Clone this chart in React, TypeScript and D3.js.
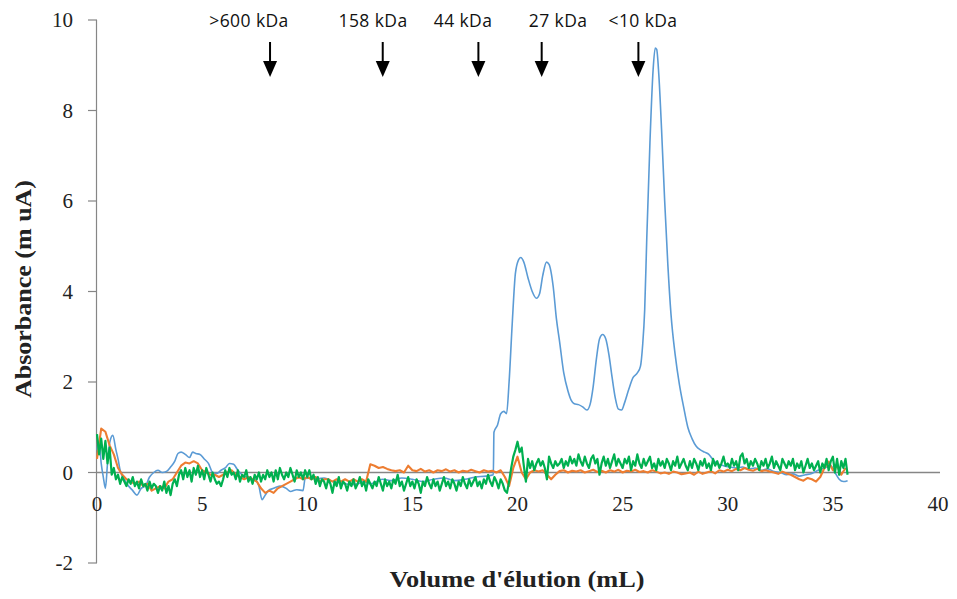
import React from "react";
import * as d3 from "d3";

// ---------- DATA ----------
const xTicks = [0, 5, 10, 15, 20, 25, 30, 35, 40];
const yTicks = [-2, 0, 2, 4, 6, 8, 10];

const markerLabels = [">600 kDa", "158 kDa", "44 kDa", "27 kDa", "<10 kDa"];
const markerVolumes = [8.23, 13.59, 18.14, 21.15, 25.75];
const markerLabelCenters = [7.23, 13.13, 17.41, 21.93, 25.97];

// Blue trace: [volume, absorbance]
const blueX = [
  0.0, 0.1, 0.2, 0.3, 0.4, 0.5, 0.6, 0.75, 0.9, 1.0, 1.1, 1.3, 1.5, 1.7, 1.9, 2.1, 2.3, 2.5, 2.7, 2.9,
  3.1, 3.3, 3.5, 3.7, 3.85, 4.0, 4.2, 4.4, 4.55, 4.7, 4.9, 5.1, 5.3, 5.5, 5.7, 5.9, 6.1, 6.3, 6.5, 6.7,
  6.9, 7.1, 7.3, 7.5, 7.7, 7.85, 8.0, 8.15, 8.4, 8.7, 9.0, 9.2, 9.5, 9.8, 9.9, 10.2, 10.5, 10.8, 11.0, 11.2,
  11.5, 11.8, 12.1, 12.4, 12.7, 13.0, 13.3, 13.6, 14.0, 14.5, 15.0, 15.5, 16.0, 16.5, 17.0, 17.5, 18.0, 18.5, 18.85,
  18.88, 19.05, 19.2, 19.35, 19.48, 19.6, 19.75, 19.9, 20.05, 20.15, 20.3, 20.5, 20.7, 20.9, 21.05, 21.2, 21.38, 21.5,
  21.7, 21.85, 22.0, 22.2, 22.4, 22.55, 22.7, 22.9, 23.1, 23.3, 23.45, 23.6, 23.75, 23.9, 24.05, 24.2, 24.35, 24.5,
  24.65, 24.8, 24.95, 25.1, 25.3, 25.5, 25.7, 25.85, 25.95, 26.05, 26.15, 26.3, 26.45, 26.55, 26.62, 26.72, 26.85,
  27.0, 27.15, 27.3, 27.5, 27.7, 27.9, 28.1, 28.3, 28.5, 28.7, 28.9, 29.1, 29.3, 29.5, 29.8, 30.1, 30.4, 30.7,
  31.0, 31.3, 31.6, 31.9, 32.2, 32.5, 32.8, 33.1, 33.4, 33.7, 34.0, 34.3, 34.6, 34.9, 35.1, 35.3, 35.5, 35.7,
];
const blueY = [
  0.5, 0.7, 0.2, -0.1, -0.35, 0.2, 0.65, 0.82, 0.5, 0.3, 0.05, -0.15, -0.3, -0.4, -0.5, -0.35, -0.3, -0.1, 0.0, 0.05,
  0.0, 0.02, 0.12, 0.25, 0.42, 0.45, 0.4, 0.33, 0.45, 0.42, 0.4, 0.3, 0.2, 0.0, -0.02, 0.05, 0.1, 0.2, 0.18, 0.05,
  -0.05, -0.1, -0.13, -0.15, -0.3, -0.6, -0.5, -0.4, -0.35, -0.3, -0.35, -0.42, -0.38, -0.4, -0.13, -0.12, -0.14, -0.12, -0.15, -0.2,
  -0.22, -0.25, -0.27, -0.25, -0.2, -0.25, -0.2, -0.15, -0.18, -0.12, -0.15, -0.2, -0.15, -0.12, -0.18, -0.15, -0.1, -0.08, -0.05,
  0.89, 1.05, 1.3, 1.35, 1.3, 2.0, 3.3, 4.4, 4.7, 4.75, 4.65, 4.3, 4.0, 3.85, 3.95, 4.35, 4.65, 4.6,
  4.1, 3.4, 2.9, 2.2, 1.8, 1.6, 1.52, 1.5, 1.45, 1.38, 1.5, 1.9, 2.5, 2.95, 3.05, 2.95, 2.6, 2.1,
  1.65, 1.4, 1.38, 1.55, 1.85, 2.1, 2.2, 2.35, 2.8, 3.6, 5.2, 7.3, 8.9, 9.38, 9.35, 8.8, 7.6,
  6.0, 4.6, 3.5, 2.6, 1.95, 1.45, 1.0, 0.75, 0.58, 0.5, 0.45, 0.4, 0.28, 0.2, 0.15, 0.12, 0.1, 0.12,
  0.08, 0.1, 0.05, 0.08, 0.02, 0.0, -0.05, -0.03, -0.08, -0.05, -0.02, 0.05, 0.1, 0.15, 0.0, -0.15, -0.2, -0.18,
];

// Orange trace: sampled every 0.2 mL from 0
const orangeStep = 0.2;
const orangeY = [
  0.3, 0.97, 0.9, 0.6, 0.4,
  0.1, -0.05, -0.15, -0.2, -0.25,
  -0.2, -0.3, -0.25, -0.4, -0.35,
  -0.3, -0.35, -0.2, -0.15, 0.0,
  0.15, 0.22, 0.2, 0.25, 0.2,
  0.05, 0.0, -0.05, -0.05, -0.1,
  -0.05, 0.0, 0.05, -0.05, -0.1,
  -0.15, -0.1, -0.15, -0.2, -0.35,
  -0.45, -0.4, -0.45, -0.35, -0.3,
  -0.25, -0.2, -0.15, -0.1, -0.15,
  -0.1, -0.15, -0.1, -0.2, -0.15,
  -0.15, -0.2, -0.15, -0.2, -0.15,
  -0.2, -0.15, -0.2, -0.15, -0.2,
  0.18, 0.15, 0.1, 0.12, 0.08,
  0.05, 0.03, 0.05, 0.0, 0.15,
  0.05, 0.03, 0.08, 0.02, 0.05,
  0.0, 0.05, 0.03, 0.07, 0.02,
  0.05, 0.0, 0.04, 0.02, 0.06,
  0.03, 0.0, 0.05, 0.02, 0.04,
  0.0, 0.05, -0.1, -0.3, 0.1,
  0.35, 0.0, -0.15, 0.0, 0.05,
  0.02, 0.05, -0.05, -0.15, -0.05,
  0.03, 0.05, 0.0, 0.04, 0.02,
  0.05, 0.0, 0.03, 0.06, 0.01,
  0.04, 0.0, 0.05, 0.02, 0.06,
  0.0, 0.04, 0.02, 0.06, 0.01,
  0.03, 0.0, 0.05, 0.02, -0.02,
  0.0, -0.03, 0.02, 0.0, -0.04,
  -0.02, 0.0, -0.05, 0.02, -0.03,
  0.0, 0.03, -0.02, 0.05, 0.02,
  0.06, 0.03, 0.08, 0.05, 0.1,
  0.06, 0.04, 0.08, 0.03, 0.05,
  0.02, 0.0, -0.03, 0.02, -0.02,
  -0.05, -0.1, -0.15, -0.18, -0.12,
  -0.15, -0.2, -0.1, 0.1, 0.24,
  0.05, 0.15, -0.05, 0.1,
];

// Green trace: sampled every 0.1 mL from 0
const greenStep = 0.1;
const greenY = [
  0.85, 0.4, 0.75, 0.3, 0.7, 0.2, 0.55, -0.05, 0.1, -0.15,
  -0.05, -0.25, -0.1, -0.2, -0.3, -0.15, -0.25, -0.1, -0.3, -0.2,
  -0.35, -0.15, -0.3, -0.25, -0.4, -0.2, -0.35, -0.25, -0.3, -0.45,
  -0.3, -0.4, -0.2, -0.45, -0.3, -0.5, -0.25, -0.15, -0.3, -0.05,
  0.05, -0.15, 0.1, -0.1, 0.05, -0.2, 0.1, -0.05, 0.15, -0.1,
  0.05, -0.15, 0.1, -0.05, -0.2, 0.0, -0.15, -0.25, -0.2, -0.3,
  -0.15, 0.05, -0.1, 0.1, -0.05, 0.0, -0.15, 0.05, -0.2, -0.05,
  -0.1, 0.05, -0.2, -0.1, -0.25, -0.05, -0.15, 0.0, -0.2, -0.05,
  -0.15, 0.05, -0.1, 0.0, -0.2, 0.05, -0.15, 0.1, -0.05, -0.15,
  0.0, -0.1, 0.1, -0.05, -0.2, 0.05, -0.1, 0.0, -0.15, 0.05,
  -0.1, 0.05, -0.15, -0.05, -0.25, -0.1, -0.3, -0.15, -0.2, -0.35,
  -0.15, -0.25, -0.45, -0.2, -0.3, -0.1, -0.35, -0.2, -0.25, -0.4,
  -0.2, -0.3, -0.15, -0.35, -0.25, -0.1, -0.3, -0.2, -0.4, -0.15,
  -0.25, -0.35, -0.2, -0.3, -0.1, -0.25, -0.4, -0.15, -0.3, -0.2,
  -0.35, -0.15, -0.25, -0.05, -0.3, -0.2, -0.4, -0.25, -0.1, -0.3,
  -0.2, -0.35, -0.15, -0.25, -0.45, -0.2, -0.3, -0.1, -0.25, -0.35,
  -0.15, -0.3, -0.2, -0.4, -0.25, -0.1, -0.3, -0.2, -0.35, -0.15,
  -0.25, -0.4, -0.2, -0.3, -0.1, -0.25, -0.35, -0.15, -0.3, -0.2,
  -0.1, -0.3, -0.2, -0.35, -0.15, -0.25, -0.05, -0.2, -0.3, -0.1,
  -0.2, -0.35, -0.15, -0.25, -0.4, -0.45, -0.2, 0.1, 0.35, 0.5,
  0.68, 0.45, 0.55, 0.15, -0.2, 0.3, 0.1, 0.25, 0.05, 0.2,
  0.3, 0.15, 0.25, 0.1, -0.15, 0.35, 0.2, 0.1, 0.25, 0.15,
  0.2, 0.3, 0.1, 0.25, 0.15, 0.35, 0.2, 0.3, 0.15, 0.4,
  0.25, 0.15, 0.35, 0.2, 0.1, 0.3, 0.38, 0.2, 0.3, -0.05,
  0.2, 0.35, 0.15, 0.3, 0.1, 0.25, 0.4, 0.15, 0.3, 0.2,
  0.1, 0.3, 0.2, 0.35, 0.05, 0.25, 0.15, 0.4, 0.2, 0.1,
  0.3, 0.15, 0.25, 0.35, 0.1, 0.2, 0.05, 0.3, 0.15, 0.25,
  0.1, 0.3, 0.2, 0.05, 0.25, 0.15, 0.35, 0.1, 0.2, 0.3,
  0.15, 0.05, 0.25, 0.1, 0.3, 0.2, 0.05, 0.25, 0.15, 0.3,
  0.1, 0.2, 0.05, 0.3, 0.15, 0.25, 0.1, 0.2, 0.35, 0.15,
  0.2, 0.1, 0.3, 0.15, 0.25, 0.05, 0.35, 0.42, 0.2, 0.3,
  0.1, 0.25, 0.15, 0.3, 0.2, 0.05, 0.25, 0.15, 0.3, 0.1,
  0.2, 0.35, 0.1, 0.25, 0.15, 0.05, 0.3, 0.2, 0.1, 0.25,
  0.15, 0.3, 0.05, 0.2, 0.1, 0.25, 0.0, 0.15, 0.3, 0.1,
  0.2, 0.05, 0.15, 0.25, 0.0, 0.2, 0.1, 0.3, 0.05, 0.25,
  0.35, 0.0, 0.3, -0.05, 0.25, 0.1, 0.3, -0.05,
];

const xTitle = "Volume d'élution (mL)";
const yTitle = "Absorbance  (m uA)";

// ---------- CHART ----------
const W = 957;
const H = 599;

export default function App() {
  const x = d3.scaleLinear().domain([0, 40]).range([97, 938]);
  const y = d3.scaleLinear().domain([-2, 10]).range([563, 20]);

  const bluePts: [number, number][] = blueX.map((v, i) => [v, blueY[i]]);
  const orangePts: [number, number][] = orangeY.map((v, i) => [i * orangeStep, v]);
  const greenPts: [number, number][] = greenY.map((v, i) => [i * greenStep, v]);

  const smooth = d3
    .line<[number, number]>()
    .x((d) => x(d[0]))
    .y((d) => y(d[1]))
    .curve(d3.curveMonotoneX);
  const lin = d3
    .line<[number, number]>()
    .x((d) => x(d[0]))
    .y((d) => y(d[1]));

  const serif = "'Liberation Serif', 'Times New Roman', serif";
  const sans = "'Open Sans', 'Noto Sans', sans-serif";
  const axisColor = "#868686";

  return (
    <svg
      width={W}
      height={H}
      style={{ position: "fixed", left: 0, top: 0, background: "#fff" }}
    >
      <rect x={0} y={0} width={W} height={H} fill="#fff" />
      {/* y axis */}
      <line x1={x(0) - 0.5} x2={x(0) - 0.5} y1={y(10)} y2={y(-2)} stroke={axisColor} strokeWidth={1.2} />
      {yTicks.map((t) => (
        <g key={"yt" + t}>
          <line x1={x(0) - 9} x2={x(0)} y1={y(t)} y2={y(t)} stroke={axisColor} strokeWidth={1.2} />
          <text
            x={73}
            y={y(t)}
            dy="0.35em"
            textAnchor="end"
            fontFamily={serif}
            fontSize={21}
            fill="#222"
          >
            {t}
          </text>
        </g>
      ))}
      {/* x axis at 0 */}
      <line x1={x(0) - 1} x2={x(40) + 2} y1={y(0)} y2={y(0)} stroke={axisColor} strokeWidth={1.4} />
      {xTicks.map((t) => (
        <text
          key={"xt" + t}
          x={x(t)}
          y={511}
          textAnchor="middle"
          fontFamily={serif}
          fontSize={21}
          fill="#222"
        >
          {t}
        </text>
      ))}

      {/* series */}
      <path d={smooth(bluePts) || ""} fill="none" stroke="#5B9BD5" strokeWidth={1.6} />
      <path d={lin(orangePts) || ""} fill="none" stroke="#ED7D31" strokeWidth={2.1} strokeLinejoin="round" />
      <path d={lin(greenPts) || ""} fill="none" stroke="#00B050" strokeWidth={2.2} strokeLinejoin="round" />

      {/* markers */}
      {markerLabels.map((lab, i) => {
        const ax = x(markerVolumes[i]);
        return (
          <g key={"m" + i}>
            <text
              x={x(markerLabelCenters[i])}
              y={27}
              textAnchor="middle"
              fontFamily={sans}
              fontSize={17.5}
              letterSpacing={0.4}
              fill="#111"
            >
              {lab}
            </text>
            <line x1={ax} x2={ax} y1={42} y2={64} stroke="#000" strokeWidth={2} />
            <path d={`M${ax - 7},${61} L${ax + 7},${61} L${ax},${77} Z`} fill="#000" />
          </g>
        );
      })}

      {/* titles */}
      <text
        x={517}
        y={587}
        textAnchor="middle"
        fontFamily={serif}
        fontWeight="bold"
        fontSize={24}
        textLength={255}
        lengthAdjust="spacingAndGlyphs"
        fill="#222"
      >
        {xTitle}
      </text>
      <text
        transform={`translate(31, 289) rotate(-90)`}
        textAnchor="middle"
        fontFamily={serif}
        fontWeight="bold"
        fontSize={24}
        textLength={218}
        lengthAdjust="spacingAndGlyphs"
        fill="#222"
      >
        {yTitle}
      </text>
    </svg>
  );
}
